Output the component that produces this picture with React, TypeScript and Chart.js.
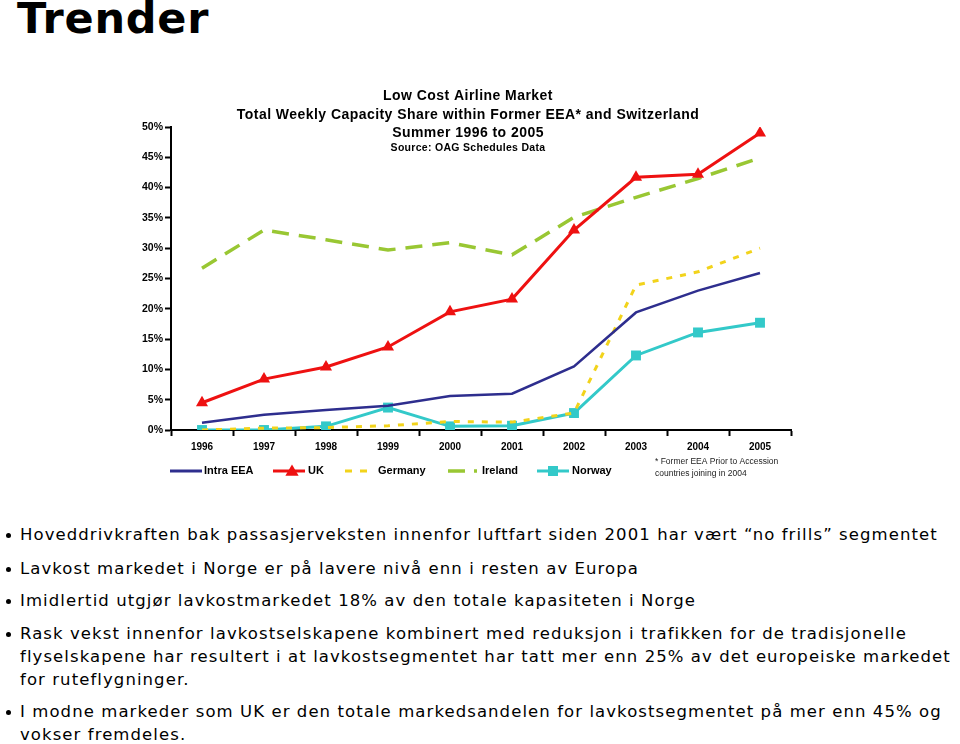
import React, { useEffect, useRef } from "react";
import { Chart, registerables } from "chart.js";

Chart.register(...registerables);

const years = ["1996", "1997", "1998", "1999", "2000", "2001", "2002", "2003", "2004", "2005"];
const intraEEA = [1.2, 2.5, 3.3, 4.0, 5.6, 6.0, 10.5, 19.4, 23.0, 25.9];
const uk = [4.5, 8.4, 10.4, 13.7, 19.5, 21.6, 33.0, 41.7, 42.2, 49.0];
const germany = [0.0, 0.3, 0.4, 0.7, 1.4, 1.3, 2.8, 23.9, 26.1, 30.0];
const ireland = [26.7, 33.0, 31.4, 29.7, 30.9, 28.9, 35.1, 38.4, 41.5, 44.9];
const norway = [0.0, 0.0, 0.6, 3.7, 0.6, 0.7, 2.8, 12.3, 16.1, 17.7];

const titleLines = [
  "Low Cost Airline Market",
  "Total Weekly Capacity Share within Former EEA* and Switzerland",
  "Summer 1996 to 2005",
];
const sourceLine = "Source: OAG Schedules Data";
const footnoteLines = ["* Former EEA Prior to Accession", "countries joining in 2004"];

const bullets = [
  ["Hoveddrivkraften bak passasjerveksten innenfor luftfart siden 2001 har vært \u201Cno frills\u201D segmentet"],
  ["Lavkost markedet i Norge er på lavere nivå enn i resten av Europa"],
  ["Imidlertid utgjør lavkostmarkedet 18% av den totale kapasiteten i Norge"],
  [
    "Rask vekst innenfor lavkostselskapene kombinert med reduksjon i trafikken for de tradisjonelle",
    "flyselskapene har resultert i at lavkostsegmentet har tatt mer enn 25% av det europeiske markedet",
    "for ruteflygninger.",
  ],
  [
    "I modne markeder som UK er den totale markedsandelen for lavkostsegmentet på mer enn 45% og",
    "vokser fremdeles.",
  ],
];
const bulletTops = [523, 557, 589, 622, 700];

const C_EEA = "#2E2E8E";
const C_UK = "#EE1111";
const C_DE = "#F2D31B";
const C_IE = "#99C733";
const C_NO = "#33C9C9";

const FONT = "'Liberation Sans', Arial, sans-serif";

function drawTri(ctx: CanvasRenderingContext2D, x: number, y: number, r: number) {
  ctx.beginPath();
  ctx.moveTo(x, y - r);
  ctx.lineTo(x + r * 0.95, y + r * 0.6);
  ctx.lineTo(x - r * 0.95, y + r * 0.6);
  ctx.closePath();
  ctx.fill();
}

const overlayPlugin = {
  id: "overlay",
  afterDraw(chart: any) {
    const ctx: any = chart.ctx;
    ctx.save();
    // Title
    ctx.fillStyle = "#000";
    ctx.textAlign = "center";
    ctx.textBaseline = "middle";
    ctx.font = `bold 14px ${FONT}`;
    ctx.letterSpacing = "0.45px";
    const tys = [96, 115, 133];
    titleLines.forEach((t, i) => ctx.fillText(t, 468, tys[i]));
    ctx.font = `bold 10.5px ${FONT}`;
    ctx.letterSpacing = "0.3px";
    ctx.fillText(sourceLine, 468, 148);
    ctx.letterSpacing = "0px";

    // Legend
    const ly = 471;
    ctx.textAlign = "left";
    ctx.font = `bold 11px ${FONT}`;
    ctx.lineCap = "butt";
    // Intra EEA
    ctx.strokeStyle = C_EEA;
    ctx.lineWidth = 3;
    ctx.setLineDash([]);
    ctx.beginPath(); ctx.moveTo(170, ly); ctx.lineTo(202, ly); ctx.stroke();
    ctx.fillStyle = "#000";
    ctx.fillText("Intra EEA", 204, ly);
    // UK
    ctx.strokeStyle = C_UK;
    ctx.beginPath(); ctx.moveTo(273, ly); ctx.lineTo(305, ly); ctx.stroke();
    ctx.fillStyle = C_UK;
    drawTri(ctx, 292, ly + 0.5, 7);
    ctx.fillStyle = "#000";
    ctx.fillText("UK", 308, ly);
    // Germany
    ctx.strokeStyle = C_DE;
    ctx.setLineDash([7, 8]);
    ctx.beginPath(); ctx.moveTo(345, ly); ctx.lineTo(367, ly); ctx.stroke();
    ctx.fillStyle = "#000";
    ctx.fillText("Germany", 378, ly);
    // Ireland
    ctx.strokeStyle = C_IE;
    ctx.lineWidth = 3.5;
    ctx.setLineDash([17, 9]);
    ctx.beginPath(); ctx.moveTo(448, ly); ctx.lineTo(477, ly); ctx.stroke();
    ctx.fillStyle = "#000";
    ctx.fillText("Ireland", 482, ly);
    // Norway
    ctx.setLineDash([]);
    ctx.lineWidth = 3;
    ctx.strokeStyle = C_NO;
    ctx.beginPath(); ctx.moveTo(537, ly); ctx.lineTo(569, ly); ctx.stroke();
    ctx.fillStyle = C_NO;
    ctx.fillRect(548, ly - 5, 10, 10);
    ctx.fillStyle = "#000";
    ctx.fillText("Norway", 572, ly);

    // Footnote
    ctx.fillStyle = "#222";
    ctx.font = `8.5px ${FONT}`;
    ctx.fillText(footnoteLines[0], 655, 462);
    ctx.fillText(footnoteLines[1], 655, 474);
    ctx.restore();
  },
};

function ChartCanvas() {
  const ref = useRef<HTMLCanvasElement | null>(null);
  useEffect(() => {
    if (!ref.current) return;
    const chart = new Chart(ref.current, {
      type: "line",
      data: {
        labels: years,
        datasets: [
          {
            label: "Intra EEA",
            data: intraEEA,
            borderColor: C_EEA,
            backgroundColor: C_EEA,
            borderWidth: 2.5,
            pointRadius: 0,
            tension: 0,
          },
          {
            label: "UK",
            data: uk,
            borderColor: C_UK,
            backgroundColor: C_UK,
            borderWidth: 3,
            pointStyle: "triangle",
            pointRadius: 7,
            pointBorderWidth: 0,
            tension: 0,
          },
          {
            label: "Germany",
            data: germany,
            borderColor: C_DE,
            backgroundColor: C_DE,
            borderWidth: 3,
            borderDash: [6, 8],
            pointRadius: 0,
            tension: 0,
          },
          {
            label: "Ireland",
            data: ireland,
            borderColor: C_IE,
            backgroundColor: C_IE,
            borderWidth: 3.5,
            borderDash: [17, 10],
            pointRadius: 0,
            tension: 0,
          },
          {
            label: "Norway",
            data: norway,
            borderColor: C_NO,
            backgroundColor: C_NO,
            borderWidth: 3,
            pointStyle: "rect",
            pointRadius: 7,
            pointBorderWidth: 0,
            tension: 0,
          },
        ],
      },
      options: {
        responsive: false,
        animation: false,
        events: [],
        layout: { padding: { left: 100, right: 169, top: 127, bottom: 50 } },
        plugins: {
          legend: { display: false },
          title: { display: false },
          tooltip: { enabled: false },
        },
        scales: {
          x: {
            offset: true,
            grid: {
              display: true,
              offset: true,
              drawOnChartArea: false,
              drawTicks: true,
              tickLength: 6,
              tickWidth: 2,
              tickColor: "#000",
            },
            border: { display: true, color: "#000", width: 2 },
            ticks: {
              color: "#000",
              padding: 5,
              maxRotation: 0,
              font: { family: FONT, size: 10, weight: "bold" },
            },
            afterFit(scale: any) {
              scale.height = 40;
            },
          },
          y: {
            min: 0,
            max: 50,
            grid: {
              display: true,
              drawOnChartArea: false,
              drawTicks: true,
              tickLength: 6,
              tickWidth: 2,
              tickColor: "#000",
            },
            border: { display: true, color: "#000", width: 2 },
            ticks: {
              stepSize: 5,
              color: "#000",
              padding: 2,
              font: { family: FONT, size: 10.5, weight: "bold" },
              callback: (v: any) => `${v}%`,
            },
            afterFit(scale: any) {
              scale.width = 71;
            },
          },
        },
      },
      plugins: [overlayPlugin],
    });
    return () => chart.destroy();
  }, []);
  return (
    <canvas
      ref={ref}
      width={960}
      height={520}
      style={{ position: "absolute", left: 0, top: 0, width: 960, height: 520 }}
    />
  );
}

export default function App() {
  return (
    <div
      style={{
        position: "absolute",
        left: 0,
        top: 0,
        width: 960,
        height: 744,
        background: "#fff",
        overflow: "hidden",
      }}
    >
      <div
        style={{
          position: "absolute",
          left: 17,
          top: -3,
          fontFamily: "'DejaVu Sans', Verdana, sans-serif",
          fontWeight: "bold",
          fontSize: 43,
          lineHeight: "43px",
          letterSpacing: "0.8px",
          color: "#000",
          whiteSpace: "nowrap",
        }}
      >
        Trender
      </div>
      <ChartCanvas />
      {bullets.map((lines, i) => (
        <div key={i}>
          <div
            style={{
              position: "absolute",
              left: 6,
              top: bulletTops[i] + 10,
              width: 5,
              height: 5,
              borderRadius: "50%",
              background: "#000",
            }}
          />
          <div
            style={{
              position: "absolute",
              left: 20,
              top: bulletTops[i],
              fontFamily: "'DejaVu Sans', Verdana, sans-serif",
              fontSize: 16.5,
              lineHeight: "23px",
              letterSpacing: "1.08px",
              color: "#000",
              whiteSpace: "nowrap",
            }}
          >
            {lines.map((l, j) => (
              <div key={j}>{l}</div>
            ))}
          </div>
        </div>
      ))}
    </div>
  );
}
